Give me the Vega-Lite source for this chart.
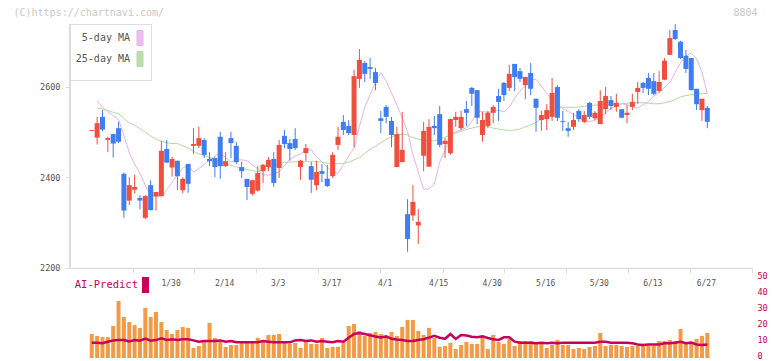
{
"$schema": "https://vega.github.io/schema/vega-lite/v6.json",
"width": 682, "height": 353,
"autosize": {"type": "none"},
"padding": {"left": 70, "top": 5, "right": 20, "bottom": 3},
"background": "white",
"data": {"values": [
{"i":0,"d":"1/8","o":2503,"h":2505,"l":2502,"c":2505,"v":15,"ai":9.6},
{"i":1,"d":"1/9","o":2488,"h":2534,"l":2473,"c":2520,"v":13.8,"ai":9.6,"m5":2569,"m25":2554},
{"i":2,"d":"1/10","o":2534,"h":2549,"l":2502,"c":2506,"v":13.1,"ai":9.2,"m5":2555,"m25":2551},
{"i":3,"d":"1/14","o":2483,"h":2490,"l":2456,"c":2487,"v":13.1,"ai":10.2,"m5":2545,"m25":2548},
{"i":4,"d":"1/15","o":2496,"h":2497,"l":2444,"c":2475,"v":20,"ai":11,"m5":2537,"m25":2544},
{"i":5,"d":"1/16","o":2509,"h":2523,"l":2476,"c":2479,"v":35.6,"ai":11.3,"m5":2528,"m25":2541},
{"i":6,"d":"1/17","o":2408,"h":2411,"l":2311,"c":2327,"v":25.6,"ai":11.3,"m5":2493,"m25":2530},
{"i":7,"d":"1/20","o":2349,"h":2401,"l":2339,"c":2383,"v":22.5,"ai":10.4,"m5":2455,"m25":2521},
{"i":8,"d":"1/21","o":2373,"h":2406,"l":2365,"c":2379,"v":20.6,"ai":11.3,"m5":2430,"m25":2515},
{"i":9,"d":"1/22","o":2355,"h":2361,"l":2330,"c":2349,"v":18.8,"ai":10.8,"m5":2409,"m25":2508},
{"i":10,"d":"1/23","o":2311,"h":2361,"l":2308,"c":2359,"v":31.3,"ai":12.1,"m5":2383,"m25":2500},
{"i":11,"d":"1/24","o":2383,"h":2394,"l":2327,"c":2328,"v":25.6,"ai":10.8,"m5":2359,"m25":2492},
{"i":12,"d":"1/27","o":2358,"h":2368,"l":2327,"c":2368,"v":28.8,"ai":11.2,"m5":2360,"m25":2485},
{"i":13,"d":"1/28","o":2359,"h":2481,"l":2359,"c":2459,"v":22.5,"ai":12.3,"m5":2357,"m25":2480},
{"i":14,"d":"1/29","o":2463,"h":2483,"l":2432,"c":2433,"v":17.5,"ai":11.3,"m5":2373,"m25":2477},
{"i":15,"d":"1/30","o":2422,"h":2446,"l":2402,"c":2441,"v":15,"ai":11.7,"m5":2389,"m25":2475},
{"i":16,"d":"1/31","o":2437,"h":2437,"l":2372,"c":2403,"v":17.5,"ai":11.3,"m5":2406,"m25":2475},
{"i":17,"d":"2/3","o":2372,"h":2400,"l":2365,"c":2397,"v":19.4,"ai":11.7,"m5":2421,"m25":2470},
{"i":18,"d":"2/4","o":2430,"h":2430,"l":2366,"c":2386,"v":18.8,"ai":11.7,"m5":2427,"m25":2465},
{"i":19,"d":"2/5","o":2470,"h":2509,"l":2452,"c":2474,"v":6.3,"ai":11,"m5":2412,"m25":2458},
{"i":20,"d":"2/6","o":2470,"h":2512,"l":2465,"c":2487,"v":7.5,"ai":10.2,"m5":2420,"m25":2452},
{"i":21,"d":"2/7","o":2483,"h":2487,"l":2443,"c":2450,"v":10,"ai":10.6,"m5":2429,"m25":2448},
{"i":22,"d":"2/10","o":2441,"h":2456,"l":2425,"c":2436,"v":21.9,"ai":10.6,"m5":2439,"m25":2445},
{"i":23,"d":"2/12","o":2443,"h":2445,"l":2401,"c":2423,"v":12.5,"ai":10.6,"m5":2447,"m25":2440},
{"i":24,"d":"2/13","o":2490,"h":2501,"l":2397,"c":2425,"v":11.3,"ai":11,"m5":2454,"m25":2435},
{"i":25,"d":"2/14","o":2425,"h":2456,"l":2423,"c":2436,"v":6.9,"ai":10.2,"m5":2444,"m25":2431},
{"i":26,"d":"2/17","o":2487,"h":2501,"l":2443,"c":2476,"v":8.1,"ai":10.6,"m5":2434,"m25":2427},
{"i":27,"d":"2/18","o":2470,"h":2478,"l":2430,"c":2434,"v":8.1,"ai":9.8,"m5":2439,"m25":2423},
{"i":28,"d":"2/19","o":2423,"h":2435,"l":2399,"c":2414,"v":9.4,"ai":9.8,"m5":2439,"m25":2420},
{"i":29,"d":"2/20","o":2397,"h":2397,"l":2350,"c":2379,"v":9.4,"ai":9.8,"m5":2437,"m25":2418},
{"i":30,"d":"2/21","o":2364,"h":2395,"l":2360,"c":2394,"v":9.4,"ai":9.8,"m5":2428,"m25":2415},
{"i":31,"d":"2/25","o":2371,"h":2425,"l":2369,"c":2410,"v":12.5,"ai":9.8,"m5":2419,"m25":2413},
{"i":32,"d":"2/26","o":2414,"h":2430,"l":2388,"c":2428,"v":10,"ai":10.6,"m5":2406,"m25":2417},
{"i":33,"d":"2/27","o":2423,"h":2445,"l":2414,"c":2439,"v":14.4,"ai":10.2,"m5":2405,"m25":2421},
{"i":34,"d":"2/28","o":2441,"h":2456,"l":2379,"c":2388,"v":14.4,"ai":9.8,"m5":2410,"m25":2426},
{"i":35,"d":"3/3","o":2421,"h":2483,"l":2399,"c":2472,"v":15,"ai":9.8,"m5":2412,"m25":2430},
{"i":36,"d":"3/4","o":2492,"h":2505,"l":2465,"c":2474,"v":10,"ai":9.8,"m5":2427,"m25":2434},
{"i":37,"d":"3/5","o":2476,"h":2485,"l":2437,"c":2463,"v":8.8,"ai":9.8,"m5":2440,"m25":2434},
{"i":38,"d":"3/6","o":2485,"h":2509,"l":2461,"c":2465,"v":9.4,"ai":11,"m5":2447,"m25":2435},
{"i":39,"d":"3/7","o":2423,"h":2439,"l":2395,"c":2437,"v":6.3,"ai":11.2,"m5":2452,"m25":2435},
{"i":40,"d":"3/10","o":2454,"h":2474,"l":2437,"c":2465,"v":10,"ai":10.6,"m5":2462,"m25":2435},
{"i":41,"d":"3/11","o":2425,"h":2434,"l":2366,"c":2395,"v":8.8,"ai":11,"m5":2461,"m25":2435},
{"i":42,"d":"3/12","o":2383,"h":2437,"l":2372,"c":2412,"v":8.8,"ai":10.2,"m5":2445,"m25":2435},
{"i":43,"d":"3/13","o":2414,"h":2430,"l":2390,"c":2408,"v":12.5,"ai":10.6,"m5":2435,"m25":2434},
{"i":44,"d":"3/14","o":2397,"h":2428,"l":2379,"c":2381,"v":6.3,"ai":10.2,"m5":2423,"m25":2432},
{"i":45,"d":"3/17","o":2403,"h":2456,"l":2399,"c":2450,"v":6.9,"ai":9.8,"m5":2412,"m25":2431},
{"i":46,"d":"3/18","o":2472,"h":2512,"l":2461,"c":2490,"v":6.9,"ai":10.6,"m5":2409,"m25":2430},
{"i":47,"d":"3/19","o":2523,"h":2538,"l":2494,"c":2505,"v":10,"ai":10.2,"m5":2428,"m25":2431},
{"i":48,"d":"3/21","o":2514,"h":2527,"l":2494,"c":2498,"v":20,"ai":12.7,"m5":2447,"m25":2434},
{"i":49,"d":"3/24","o":2494,"h":2638,"l":2467,"c":2624,"v":21.3,"ai":15,"m5":2465,"m25":2439},
{"i":50,"d":"3/25","o":2618,"h":2684,"l":2598,"c":2660,"v":16.9,"ai":15.6,"m5":2513,"m25":2444},
{"i":51,"d":"3/26","o":2653,"h":2657,"l":2611,"c":2629,"v":13.8,"ai":15,"m5":2555,"m25":2453},
{"i":52,"d":"3/27","o":2644,"h":2664,"l":2618,"c":2640,"v":15.6,"ai":14.2,"m5":2583,"m25":2462},
{"i":53,"d":"3/28","o":2633,"h":2642,"l":2593,"c":2609,"v":16.3,"ai":13.5,"m5":2610,"m25":2469},
{"i":54,"d":"3/31","o":2531,"h":2547,"l":2498,"c":2525,"v":15,"ai":12.9,"m5":2632,"m25":2477},
{"i":55,"d":"4/1","o":2556,"h":2560,"l":2520,"c":2534,"v":13.8,"ai":13.5,"m5":2613,"m25":2484},
{"i":56,"d":"4/2","o":2525,"h":2534,"l":2467,"c":2494,"v":16.3,"ai":12,"m5":2587,"m25":2490},
{"i":57,"d":"4/3","o":2423,"h":2512,"l":2423,"c":2496,"v":13.8,"ai":11.5,"m5":2560,"m25":2494},
{"i":58,"d":"4/4","o":2434,"h":2545,"l":2434,"c":2461,"v":19.4,"ai":11.2,"m5":2532,"m25":2496},
{"i":59,"d":"4/7","o":2319,"h":2352,"l":2236,"c":2264,"v":23.8,"ai":10.6,"m5":2502,"m25":2494},
{"i":60,"d":"4/8","o":2316,"h":2383,"l":2304,"c":2346,"v":23.8,"ai":10.6,"m5":2450,"m25":2488},
{"i":61,"d":"4/9","o":2294,"h":2330,"l":2253,"c":2302,"v":16.9,"ai":11.2,"m5":2412,"m25":2485},
{"i":62,"d":"4/10","o":2448,"h":2523,"l":2414,"c":2503,"v":14.4,"ai":11.7,"m5":2374,"m25":2482},
{"i":63,"d":"4/11","o":2424,"h":2529,"l":2424,"c":2512,"v":18.8,"ai":12.7,"m5":2375,"m25":2481},
{"i":64,"d":"4/14","o":2514,"h":2536,"l":2494,"c":2509,"v":12.5,"ai":13.8,"m5":2385,"m25":2481},
{"i":65,"d":"4/15","o":2540,"h":2558,"l":2467,"c":2472,"v":6.9,"ai":12.7,"m5":2434,"m25":2485},
{"i":66,"d":"4/16","o":2474,"h":2487,"l":2443,"c":2481,"v":7.5,"ai":12,"m5":2460,"m25":2489},
{"i":67,"d":"4/17","o":2454,"h":2530,"l":2450,"c":2529,"v":9.4,"ai":15,"m5":2495,"m25":2494},
{"i":68,"d":"4/18","o":2527,"h":2545,"l":2512,"c":2534,"v":5.6,"ai":11.9,"m5":2501,"m25":2498},
{"i":69,"d":"4/21","o":2509,"h":2547,"l":2505,"c":2534,"v":8.1,"ai":14.4,"m5":2505,"m25":2502},
{"i":70,"d":"4/22","o":2551,"h":2569,"l":2514,"c":2543,"v":10,"ai":14,"m5":2510,"m25":2506},
{"i":71,"d":"4/23","o":2598,"h":2600,"l":2558,"c":2585,"v":8.8,"ai":13.3,"m5":2524,"m25":2509},
{"i":72,"d":"4/24","o":2593,"h":2593,"l":2518,"c":2532,"v":8.8,"ai":13,"m5":2545,"m25":2512},
{"i":73,"d":"4/25","o":2494,"h":2545,"l":2479,"c":2527,"v":13.1,"ai":13.5,"m5":2546,"m25":2513},
{"i":74,"d":"4/28","o":2514,"h":2547,"l":2509,"c":2543,"v":5.6,"ai":12.5,"m5":2544,"m25":2513},
{"i":75,"d":"4/30","o":2543,"h":2560,"l":2520,"c":2556,"v":14.4,"ai":11.7,"m5":2546,"m25":2509},
{"i":76,"d":"5/1","o":2580,"h":2596,"l":2525,"c":2567,"v":10,"ai":11.3,"m5":2549,"m25":2507},
{"i":77,"d":"5/2","o":2609,"h":2611,"l":2569,"c":2582,"v":8.8,"ai":12.9,"m5":2545,"m25":2505},
{"i":78,"d":"5/7","o":2598,"h":2649,"l":2591,"c":2629,"v":11.9,"ai":12.9,"m5":2555,"m25":2504},
{"i":79,"d":"5/8","o":2651,"h":2651,"l":2591,"c":2622,"v":7.5,"ai":10.2,"m5":2575,"m25":2505},
{"i":80,"d":"5/9","o":2635,"h":2642,"l":2611,"c":2618,"v":10.6,"ai":9.6,"m5":2591,"m25":2507},
{"i":81,"d":"5/12","o":2604,"h":2622,"l":2573,"c":2622,"v":10.6,"ai":9.6,"m5":2604,"m25":2512},
{"i":82,"d":"5/13","o":2631,"h":2653,"l":2582,"c":2596,"v":10.6,"ai":9.6,"m5":2615,"m25":2516},
{"i":83,"d":"5/14","o":2574,"h":2574,"l":2501,"c":2554,"v":8.8,"ai":9.2,"m5":2617,"m25":2522},
{"i":84,"d":"5/15","o":2527,"h":2547,"l":2503,"c":2538,"v":10,"ai":9.6,"m5":2602,"m25":2529},
{"i":85,"d":"5/16","o":2529,"h":2562,"l":2505,"c":2549,"v":6.3,"ai":9.2,"m5":2586,"m25":2540},
{"i":86,"d":"5/19","o":2534,"h":2620,"l":2525,"c":2587,"v":8.1,"ai":9.6,"m5":2572,"m25":2548},
{"i":87,"d":"5/20","o":2600,"h":2604,"l":2525,"c":2532,"v":11.3,"ai":9.2,"m5":2565,"m25":2553},
{"i":88,"d":"5/21","o":2525,"h":2547,"l":2503,"c":2523,"v":8.1,"ai":9.6,"m5":2552,"m25":2555},
{"i":89,"d":"5/22","o":2509,"h":2523,"l":2490,"c":2503,"v":8.1,"ai":9.6,"m5":2546,"m25":2555},
{"i":90,"d":"5/23","o":2512,"h":2543,"l":2505,"c":2527,"v":5.6,"ai":9.6,"m5":2539,"m25":2555},
{"i":91,"d":"5/26","o":2547,"h":2551,"l":2523,"c":2529,"v":6.3,"ai":9.6,"m5":2534,"m25":2556},
{"i":92,"d":"5/27","o":2523,"h":2547,"l":2520,"c":2538,"v":5.6,"ai":9.6,"m5":2523,"m25":2557},
{"i":93,"d":"5/28","o":2565,"h":2567,"l":2529,"c":2534,"v":6.9,"ai":9.6,"m5":2524,"m25":2559},
{"i":94,"d":"5/29","o":2531,"h":2547,"l":2527,"c":2543,"v":7.5,"ai":9.6,"m5":2526,"m25":2560},
{"i":95,"d":"5/30","o":2518,"h":2593,"l":2518,"c":2569,"v":15.6,"ai":10.2,"m5":2534,"m25":2561},
{"i":96,"d":"6/2","o":2551,"h":2600,"l":2540,"c":2580,"v":7.5,"ai":10.2,"m5":2543,"m25":2561},
{"i":97,"d":"6/3","o":2571,"h":2580,"l":2549,"c":2558,"v":8.1,"ai":9.6,"m5":2553,"m25":2562},
{"i":98,"d":"6/4","o":2556,"h":2585,"l":2545,"c":2565,"v":8.1,"ai":9.6,"m5":2557,"m25":2562},
{"i":99,"d":"6/5","o":2551,"h":2551,"l":2531,"c":2532,"v":7.5,"ai":9.6,"m5":2563,"m25":2563},
{"i":100,"d":"6/6","o":2538,"h":2560,"l":2520,"c":2543,"v":6.9,"ai":9.6,"m5":2561,"m25":2564},
{"i":101,"d":"6/9","o":2556,"h":2585,"l":2549,"c":2567,"v":7.5,"ai":9.2,"m5":2556,"m25":2565},
{"i":102,"d":"6/10","o":2589,"h":2611,"l":2562,"c":2598,"v":7.5,"ai":8.5,"m5":2553,"m25":2566},
{"i":103,"d":"6/11","o":2609,"h":2611,"l":2587,"c":2598,"v":7.5,"ai":8.1,"m5":2561,"m25":2565},
{"i":104,"d":"6/12","o":2620,"h":2631,"l":2582,"c":2596,"v":7.5,"ai":8.5,"m5":2568,"m25":2564},
{"i":105,"d":"6/13","o":2613,"h":2631,"l":2582,"c":2585,"v":7.5,"ai":8.5,"m5":2580,"m25":2563},
{"i":106,"d":"6/16","o":2591,"h":2635,"l":2587,"c":2611,"v":10.6,"ai":8.5,"m5":2589,"m25":2563},
{"i":107,"d":"6/17","o":2616,"h":2664,"l":2615,"c":2658,"v":10.6,"ai":9.2,"m5":2598,"m25":2565},
{"i":108,"d":"6/18","o":2671,"h":2726,"l":2671,"c":2708,"v":11.3,"ai":9.2,"m5":2610,"m25":2568},
{"i":109,"d":"6/19","o":2726,"h":2739,"l":2704,"c":2706,"v":10.6,"ai":9.6,"m5":2632,"m25":2572},
{"i":110,"d":"6/20","o":2700,"h":2702,"l":2662,"c":2664,"v":18.1,"ai":10.2,"m5":2654,"m25":2578},
{"i":111,"d":"6/23","o":2669,"h":2682,"l":2631,"c":2640,"v":8.8,"ai":9.2,"m5":2669,"m25":2581},
{"i":112,"d":"6/24","o":2664,"h":2664,"l":2593,"c":2593,"v":10,"ai":9.6,"m5":2675,"m25":2583},
{"i":113,"d":"6/25","o":2596,"h":2596,"l":2549,"c":2562,"v":11.9,"ai":8.5,"m5":2662,"m25":2585},
{"i":114,"d":"6/26","o":2549,"h":2574,"l":2525,"c":2574,"v":13.8,"ai":8.1,"m5":2633,"m25":2585},
{"i":115,"d":"6/27","o":2554,"h":2558,"l":2509,"c":2523,"v":15.6,"ai":8.5,"m5":2585,"m25":2586}
]},
"layer": [
  {"transform": [{"fold": ["m5", "m25"], "as": ["k", "mv"]}],
   "mark": {"type": "line", "strokeWidth": 1},
   "encoding": {
     "x": {"field": "i", "type": "quantitative", "scale": {"domain": [-4.07, 123.35], "nice": false, "zero": false, "padding": 0},
       "axis": {"orient": "bottom", "offset": -90, "values": [7.70, 19.10, 30.68, 42.26, 53.85, 65.62, 77.02, 88.60, 100.19, 111.77, 123.35],
         "labels": false, "ticks": true, "tickSize": 5, "tickColor": "#dddddd", "domainColor": "#dddddd", "domainWidth": 1.5, "grid": false,
         "title": "(C)https://chartnavi.com/", "titleX": -57, "titleY": -252.5, "titleAlign": "left", "titleBaseline": "alphabetic", "titleAngle": 0,
         "titleColor": "#c8c8c8", "titleFont": "DejaVu Sans Mono", "titleFontSize": 10, "titleFontWeight": "normal"}},
     "y": {"field": "mv", "type": "quantitative", "scale": {"domain": [2001.1, 2781.2], "nice": false, "zero": false},
       "axis": {"orient": "left", "values": [2200, 2400, 2600], "format": "d", "domain": false, "ticks": true, "tickSize": 5, "tickColor": "#dddddd", "grid": false,
         "labelFont": "DejaVu Sans Mono", "labelFontSize": 8.5, "labelColor": "#555555", "labelPadding": 5,
         "title": "8804", "titleX": 663, "titleY": 10.5, "titleAngle": 0, "titleAlign": "left", "titleBaseline": "alphabetic",
         "titleColor": "#c8c8c8", "titleFont": "DejaVu Sans Mono", "titleFontSize": 10, "titleFontWeight": "normal"}},
     "stroke": {"field": "k", "type": "nominal", "scale": {"domain": ["m5", "m25"], "range": ["#e6b2ec", "#b2d9a2"]},
       "legend": {"orient": "none", "legendX": 0, "legendY": 19, "title": " ", "titleOrient": "bottom", "titleFontSize": 4, "titlePadding": 1,
         "labelExpr": "datum.value == 'm5' ? '5-day MA' : '25-day MA'",
         "symbolType": "M-0.4,-1H0.4V1H-0.4Z", "symbolSize": 225, "symbolStrokeWidth": 1, "symbolStrokeColor": "#666666",
         "labelFont": "DejaVu Sans Mono", "labelFontSize": 10, "labelColor": "#555555",
         "strokeColor": "#dddddd", "fillColor": "white", "padding": 6, "rowPadding": 1,
         "encode": {
           "symbols": {"update": {"fill": {"signal": "datum.value == 'm5' ? '#eebcf0' : '#bcdcb0'"}, "fillOpacity": {"value": 1}, "stroke": {"value": "#666666"}, "strokeWidth": {"value": 1}, "x": {"value": 64}}},
           "labels": {"update": {"x": {"value": 54}, "align": {"value": "right"}}}}}}
   }},
  {"mark": {"type": "rule", "strokeWidth": 1},
   "encoding": {
     "x": {"field": "i", "type": "quantitative", "scale": {"domain": [-4.07, 123.35], "nice": false, "zero": false, "padding": 0}, "axis": null},
     "y": {"field": "l", "type": "quantitative", "scale": {"domain": [2001.1, 2781.2], "nice": false, "zero": false}, "axis": null}, "y2": {"field": "h"},
     "color": {"condition": {"test": "datum.c >= datum.o", "value": "#f24e3d"}, "value": "#3e7ef2"}}},
  {"mark": {"type": "bar", "width": 5},
   "encoding": {
     "x": {"field": "i", "type": "quantitative", "scale": {"domain": [-4.07, 123.35], "nice": false, "zero": false, "padding": 0}, "axis": null},
     "y": {"field": "o", "type": "quantitative", "scale": {"domain": [2001.1, 2781.2], "nice": false, "zero": false}, "axis": null}, "y2": {"field": "c"},
     "color": {"condition": {"test": "datum.c >= datum.o", "value": "#f24e3d"}, "value": "#3e7ef2"}}},
  {"mark": {"type": "rule", "color": "#dddddd", "strokeWidth": 1.5},
   "encoding": {
     "x": {"datum": -4.07, "type": "quantitative", "scale": {"domain": [-4.07, 123.35], "nice": false, "zero": false, "padding": 0}, "axis": null},
     "y": {"datum": 2200, "type": "quantitative", "scale": {"domain": [2001.1, 2781.2], "nice": false, "zero": false}, "axis": null}, "y2": {"datum": 2739}}},
  {"mark": {"type": "bar", "width": 4, "color": "#f39a45"},
   "encoding": {
     "x": {"field": "i", "type": "quantitative", "scale": {"domain": [-4.07, 123.35], "nice": false, "zero": false, "padding": 0},
       "axis": {"orient": "bottom", "offset": -90, "values": [15, 25, 35, 45, 55, 65, 75, 85, 95, 105, 115],
         "labelExpr": "['1/30','2/14','3/3','3/17','4/1','4/15','4/30','5/16','5/30','6/13','6/27'][round((datum.value-15)/10)]",
         "ticks": false, "tickSize": 0, "domain": false, "grid": false, "labelPadding": 11, "labelFlush": false, "labelOverlap": false, "labelOffset": -1.5,
         "labelFont": "DejaVu Sans Mono", "labelFontSize": 8, "labelColor": "#555555", "title": null}},
     "y": {"field": "v", "type": "quantitative", "scale": {"domain": [0, 220.625], "nice": false},
       "axis": {"orient": "right", "values": [0, 10, 20, 30, 40, 50], "domain": false, "ticks": false, "tickSize": 0, "grid": false, "labelPadding": 5,
         "labelBaseline": "alphabetic", "labelOffset": 0.5,
         "labelFont": "DejaVu Sans Mono", "labelFontSize": 8.5, "labelColor": "#c8005a", "title": null}}}},
  {"mark": {"type": "line", "strokeWidth": 2.5},
   "encoding": {
     "x": {"field": "i", "type": "quantitative", "scale": {"domain": [-4.07, 123.35], "nice": false, "zero": false, "padding": 0}, "axis": null},
     "y": {"field": "ai", "type": "quantitative", "scale": {"domain": [0, 220.625], "nice": false}, "axis": null},
     "color": {"datum": "AI-Predict", "type": "nominal", "scale": {"range": ["#c8005a"]},
       "legend": {"orient": "none", "legendX": 0, "legendY": 272, "title": null, "padding": 0,
         "symbolType": "M-0.4375,-1H0.4375V1H-0.4375Z", "symbolSize": 256, "symbolStrokeWidth": 0,
         "labelFont": "DejaVu Sans Mono", "labelFontSize": 10.5, "labelColor": "#c8005a",
         "encode": {
           "symbols": {"update": {"fill": {"value": "#c8005a"}, "fillOpacity": {"value": 1}, "strokeWidth": {"value": 0}, "x": {"value": 75.5}}},
           "labels": {"update": {"x": {"value": 68}, "align": {"value": "right"}}}}}}}}
],
"resolve": {"scale": {"y": "independent"}, "axis": {"x": "independent", "y": "independent"}},
"config": {"view": {"stroke": null}, "axis": {"grid": false}}
}
